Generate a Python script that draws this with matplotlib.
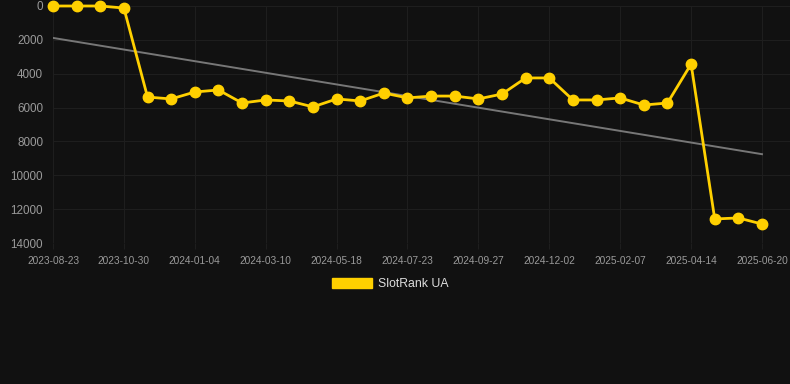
import numpy as np
import matplotlib
matplotlib.use("Agg")
import matplotlib.pyplot as plt

plt.rcParams['font.family'] = ['Liberation Sans', 'DejaVu Sans']

# rank per snapshot (lower is better, axis inverted)
ranks = [0, 0, 0, 120, 5380, 5490, 5080, 4960, 5730, 5550,
         5610, 5960, 5490, 5610, 5140, 5430, 5320, 5320, 5490, 5200,
         4250, 4250, 5550, 5550, 5430, 5850, 5730, 3430, 12580, 12520,
         12880]
tick_labels = ['2023-08-23', '2023-10-30', '2024-01-04', '2024-03-10',
               '2024-05-18', '2024-07-23', '2024-09-27', '2024-12-02',
               '2025-02-07', '2025-04-14', '2025-06-20']
y_ticks = [0, 2000, 4000, 6000, 8000, 10000, 12000, 14000]
series_name = 'SlotRank UA'

bg = '#111111'
yellow = '#FFD000'
x = np.arange(len(ranks))

fig = plt.figure(figsize=(7.9, 3.84), dpi=100, facecolor=bg)
ax = fig.add_axes([53/790, 1 - 243/384, (790 - 53)/790, (243 - 6)/384], facecolor=bg)

# linear trend
k, b = np.polyfit(x, ranks, 1)
ax.plot(x, k*x + b, color='#777777', lw=1.4, zorder=2)

ax.plot(x, ranks, color=yellow, lw=2.0, marker='o', markersize=7.5,
        clip_on=False, zorder=3, label=series_name)

ax.set_xlim(0, 30 + 28/23.63)
ax.set_ylim(14000, 0)
ax.set_yticks(y_ticks)
ax.set_yticklabels([str(v) for v in y_ticks])
ax.set_xticks(x[::3])
ax.set_xticklabels(tick_labels)

ax.grid(True, color='#1e1e1e', lw=0.8)
ax.set_axisbelow(True)
for s in ax.spines.values():
    s.set_visible(False)
ax.tick_params(axis='y', length=0, pad=7.2, labelsize=8.4, labelcolor='#9a9a9a')
ax.tick_params(axis='x', length=4, color='#1e1e1e', pad=5, labelsize=7.3, labelcolor='#9a9a9a')

leg = fig.legend(handles=[plt.Rectangle((0, 0), 1, 1, color=yellow)],
                 labels=[series_name], loc='center', bbox_to_anchor=(390/790, 1 - 284/384),
                 frameon=False, handlelength=3.3, handleheight=0.9, handletextpad=0.5,
                 fontsize=8.8)
for t in leg.get_texts():
    t.set_color('#dddddd')

fig.savefig('out.png', dpi=100, facecolor=bg)
